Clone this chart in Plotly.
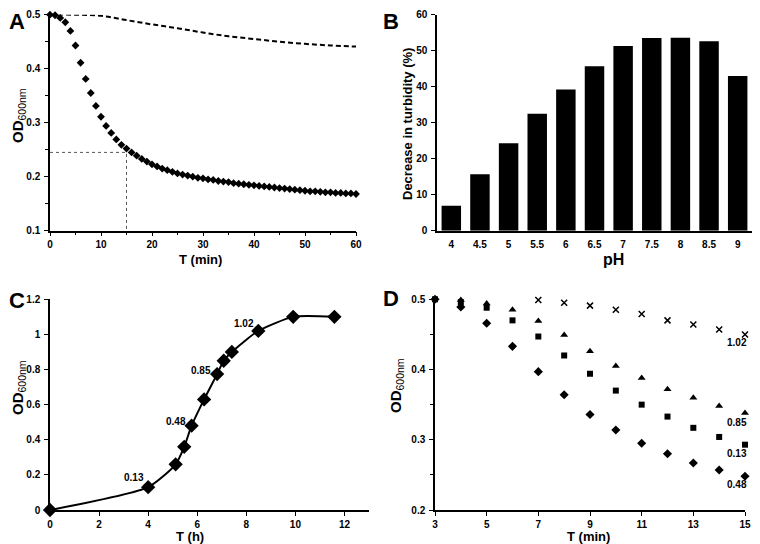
import plotly.graph_objects as go

# ---------------- Panel A data ----------------
a_time = list(range(0, 61))
a_od = [0.500, 0.499, 0.494, 0.486, 0.470, 0.443, 0.411, 0.381, 0.355, 0.331,
        0.311, 0.294, 0.281, 0.269, 0.259, 0.252, 0.245, 0.239, 0.233, 0.228,
        0.223, 0.219, 0.215, 0.212, 0.209, 0.206, 0.204, 0.202, 0.200, 0.198,
        0.197, 0.195, 0.194, 0.192, 0.191, 0.190, 0.188, 0.187, 0.186, 0.185,
        0.184, 0.183, 0.182, 0.181, 0.180, 0.179, 0.178, 0.177, 0.176, 0.175,
        0.174, 0.173, 0.173, 0.172, 0.171, 0.171, 0.170, 0.170, 0.169, 0.169,
        0.168]
a_ctrl_time = [0, 5, 10, 15, 20, 25, 30, 35, 40, 45, 50, 55, 60]
a_ctrl_od = [0.500, 0.500, 0.498, 0.490, 0.482, 0.475, 0.467, 0.460, 0.455,
             0.450, 0.446, 0.443, 0.441]
a_half_time = 15
a_half_od = 0.245

# ---------------- Panel B data ----------------
b_ph = ["4", "4.5", "5", "5.5", "6", "6.5", "7", "7.5", "8", "8.5", "9"]
b_decrease = [6.9, 15.7, 24.3, 32.5, 39.2, 45.7, 51.3, 53.5, 53.6, 52.6, 43.0]

# ---------------- Panel C data ----------------
c_time = [0, 4, 5.12, 5.47, 5.77, 6.28, 6.81, 7.08, 7.41, 8.49, 9.91, 11.59]
c_od = [0, 0.13, 0.26, 0.36, 0.48, 0.63, 0.774, 0.85, 0.90, 1.02, 1.10, 1.10]
c_labels = ["0.13", "0.48", "0.85", "1.02"]
c_label_x = [3.44, 5.12, 6.16, 7.91]
c_label_y = [0.184, 0.503, 0.797, 1.063]

# ---------------- Panel D data ----------------
d_time = [3, 4, 5, 6, 7, 8, 9, 10, 11, 12, 13, 14, 15]
d_102 = [0.503, 0.505, 0.503, 0.501, 0.499, 0.495, 0.491, 0.485, 0.479, 0.470, 0.464, 0.457, 0.450]
d_085 = [0.503, 0.499, 0.494, 0.485, 0.469, 0.449, 0.426, 0.405, 0.388, 0.372, 0.360, 0.348, 0.338]
d_013 = [0.500, 0.496, 0.488, 0.470, 0.447, 0.420, 0.394, 0.370, 0.350, 0.333, 0.317, 0.304, 0.293]
d_048 = [0.500, 0.489, 0.466, 0.433, 0.397, 0.364, 0.336, 0.314, 0.295, 0.280, 0.267, 0.257, 0.248]
d_labels = ["1.02", "0.85", "0.13", "0.48"]
d_label_x = [15.0, 15.0, 15.0, 15.0]
d_label_y = [0.438, 0.324, 0.280, 0.236]

FONT = "Liberation Sans, Arial, sans-serif"
OFF = 8            # page body margin
W, H = 744, 536    # visible figure area inside the page


def xd(a, b):
    return [(a - OFF) / W, min(1.0, (b - OFF) / W)]


def yd(top, bottom):
    return [1 - (bottom - OFF) / H, 1 - (top - OFF) / H]


def px(x):
    return (x - OFF) / W


def py(y):
    return 1 - (y - OFF) / H


fig = go.Figure()

# Panel A
fig.add_trace(go.Scatter(x=a_ctrl_time, y=a_ctrl_od, mode="lines",
                         line=dict(color="black", width=2, dash="5px,3px", shape="spline"),
                         xaxis="x", yaxis="y", showlegend=False))
fig.add_trace(go.Scatter(x=[0, a_half_time, a_half_time], y=[a_half_od, a_half_od, 0.1], mode="lines",
                         line=dict(color="#555555", width=1, dash="dot"), xaxis="x", yaxis="y", showlegend=False))
fig.add_trace(go.Scatter(x=a_time, y=a_od, mode="markers", marker=dict(symbol="diamond", size=6, color="black"),
                         xaxis="x", yaxis="y", showlegend=False, cliponaxis=False))

# Panel B
fig.add_trace(go.Bar(x=b_ph, y=b_decrease, marker=dict(color="black", line=dict(width=0)),
                     xaxis="x2", yaxis="y2", showlegend=False))

# Panel C
fig.add_trace(go.Scatter(x=c_time, y=c_od, mode="lines+markers",
                         line=dict(color="black", width=2, shape="spline", smoothing=0.6),
                         marker=dict(symbol="diamond", size=11, color="black"),
                         xaxis="x3", yaxis="y3", showlegend=False, cliponaxis=False))

# Panel D
fig.add_trace(go.Scatter(x=d_time, y=d_102, mode="markers",
                         marker=dict(symbol="x-thin", size=6, color="black", line=dict(width=1.5, color="black")),
                         xaxis="x4", yaxis="y4", showlegend=False, cliponaxis=False))
fig.add_trace(go.Scatter(x=d_time, y=d_085, mode="markers", marker=dict(symbol="triangle-up", size=7, color="black"),
                         xaxis="x4", yaxis="y4", showlegend=False, cliponaxis=False))
fig.add_trace(go.Scatter(x=d_time, y=d_013, mode="markers", marker=dict(symbol="square", size=6, color="black"),
                         xaxis="x4", yaxis="y4", showlegend=False, cliponaxis=False))
fig.add_trace(go.Scatter(x=d_time, y=d_048, mode="markers", marker=dict(symbol="diamond", size=7, color="black"),
                         xaxis="x4", yaxis="y4", showlegend=False, cliponaxis=False))

tickfont = dict(family=FONT, size=10, color="black", weight="bold")
ax = dict(showline=True, linecolor="black", linewidth=1.5, ticks="outside", ticklen=4, tickwidth=1.2,
          tickcolor="black", showgrid=False, zeroline=False, tickfont=tickfont, automargin=False,
          ticklabeloverflow="allow")
minor_y = dict(ticks="outside", ticklen=3, tickcolor="black")

fig.update_layout(
    width=W, height=H, margin=dict(l=0, r=0, t=0, b=0),
    plot_bgcolor="white", paper_bgcolor="white", bargap=0.32,
    font=dict(family=FONT, color="black"),
    xaxis=dict(ax, domain=xd(50, 356), anchor="y", range=[0, 60], dtick=10,
               minor=dict(minor_y, dtick=5)),
    yaxis=dict(ax, domain=yd(14.7, 230.7), anchor="x", range=[0.1, 0.5], dtick=0.1, tickformat=".1f",
               ticklabelstandoff=2, minor=dict(minor_y, dtick=0.05)),
    xaxis2=dict(ax, domain=xd(437, 752), anchor="y2", ticks="", ticklabelstandoff=4),
    yaxis2=dict(ax, domain=yd(14.7, 230.7), anchor="x2", range=[0, 60], dtick=10, ticklabelstandoff=2),
    xaxis3=dict(ax, domain=xd(50, 369), anchor="y3", range=[0, 13], tickvals=[0, 2, 4, 6, 8, 10, 12]),
    yaxis3=dict(ax, domain=yd(299.3, 510), anchor="x3", range=[0, 1.2], dtick=0.2, ticklabelstandoff=2),
    xaxis4=dict(ax, domain=xd(435, 745), anchor="y4", range=[3, 15], tickvals=[3, 5, 7, 9, 11, 13, 15]),
    yaxis4=dict(ax, domain=yd(299.3, 510), anchor="x4", range=[0.2, 0.5], dtick=0.1, tickformat=".1f",
                ticklabelstandoff=2, minor=dict(minor_y, dtick=0.05)),
)

ann = []
# panel letters
for letter, lx, ly in [("A", 8, 8), ("B", 382, 8), ("C", 8, 287), ("D", 382, 285)]:
    ann.append(dict(text=letter, x=px(lx), y=py(ly), xref="paper", yref="paper", xanchor="left", yanchor="top",
                    showarrow=False, borderpad=0,
                    font=dict(family=FONT, size=22, color="black", weight="bold")))

OD = "<b>OD</b><sub>600nm</sub>"
titles = [
    ("T (min)", 200, 259, 0, 13),
    (OD, 18, 116, -90, 15),
    ("Decrease in turbidity (%)", 408, 124, -90, 13),
    ("pH", 613, 259, 0, 16),
    ("T (h)", 190, 536, 0, 13),
    (OD, 18, 388, -90, 15),
    ("T (min)", 588, 536, 0, 13),
    (OD, 396, 386, -90, 15),
]
for t, tx, ty, ang, fs in titles:
    weight = "bold" if "OD" not in t else "normal"
    ann.append(dict(text=t, x=px(tx), y=py(ty), xref="paper", yref="paper", xanchor="center", yanchor="middle",
                    textangle=ang, showarrow=False,
                    font=dict(family=FONT, size=fs, color="black", weight=weight)))

for t, x, y in zip(c_labels, c_label_x, c_label_y):
    ann.append(dict(text=t, x=x, y=y, xref="x3", yref="y3", showarrow=False,
                    font=dict(family=FONT, size=10, color="black", weight="bold")))
for t, x, y in zip(d_labels, d_label_x, d_label_y):
    ann.append(dict(text=t, x=x, y=y, xref="x4", yref="y4", showarrow=False, xanchor="right", xshift=4,
                    font=dict(family=FONT, size=10, color="black", weight="bold")))
fig.update_layout(annotations=ann)

fig.write_html("out.html")
